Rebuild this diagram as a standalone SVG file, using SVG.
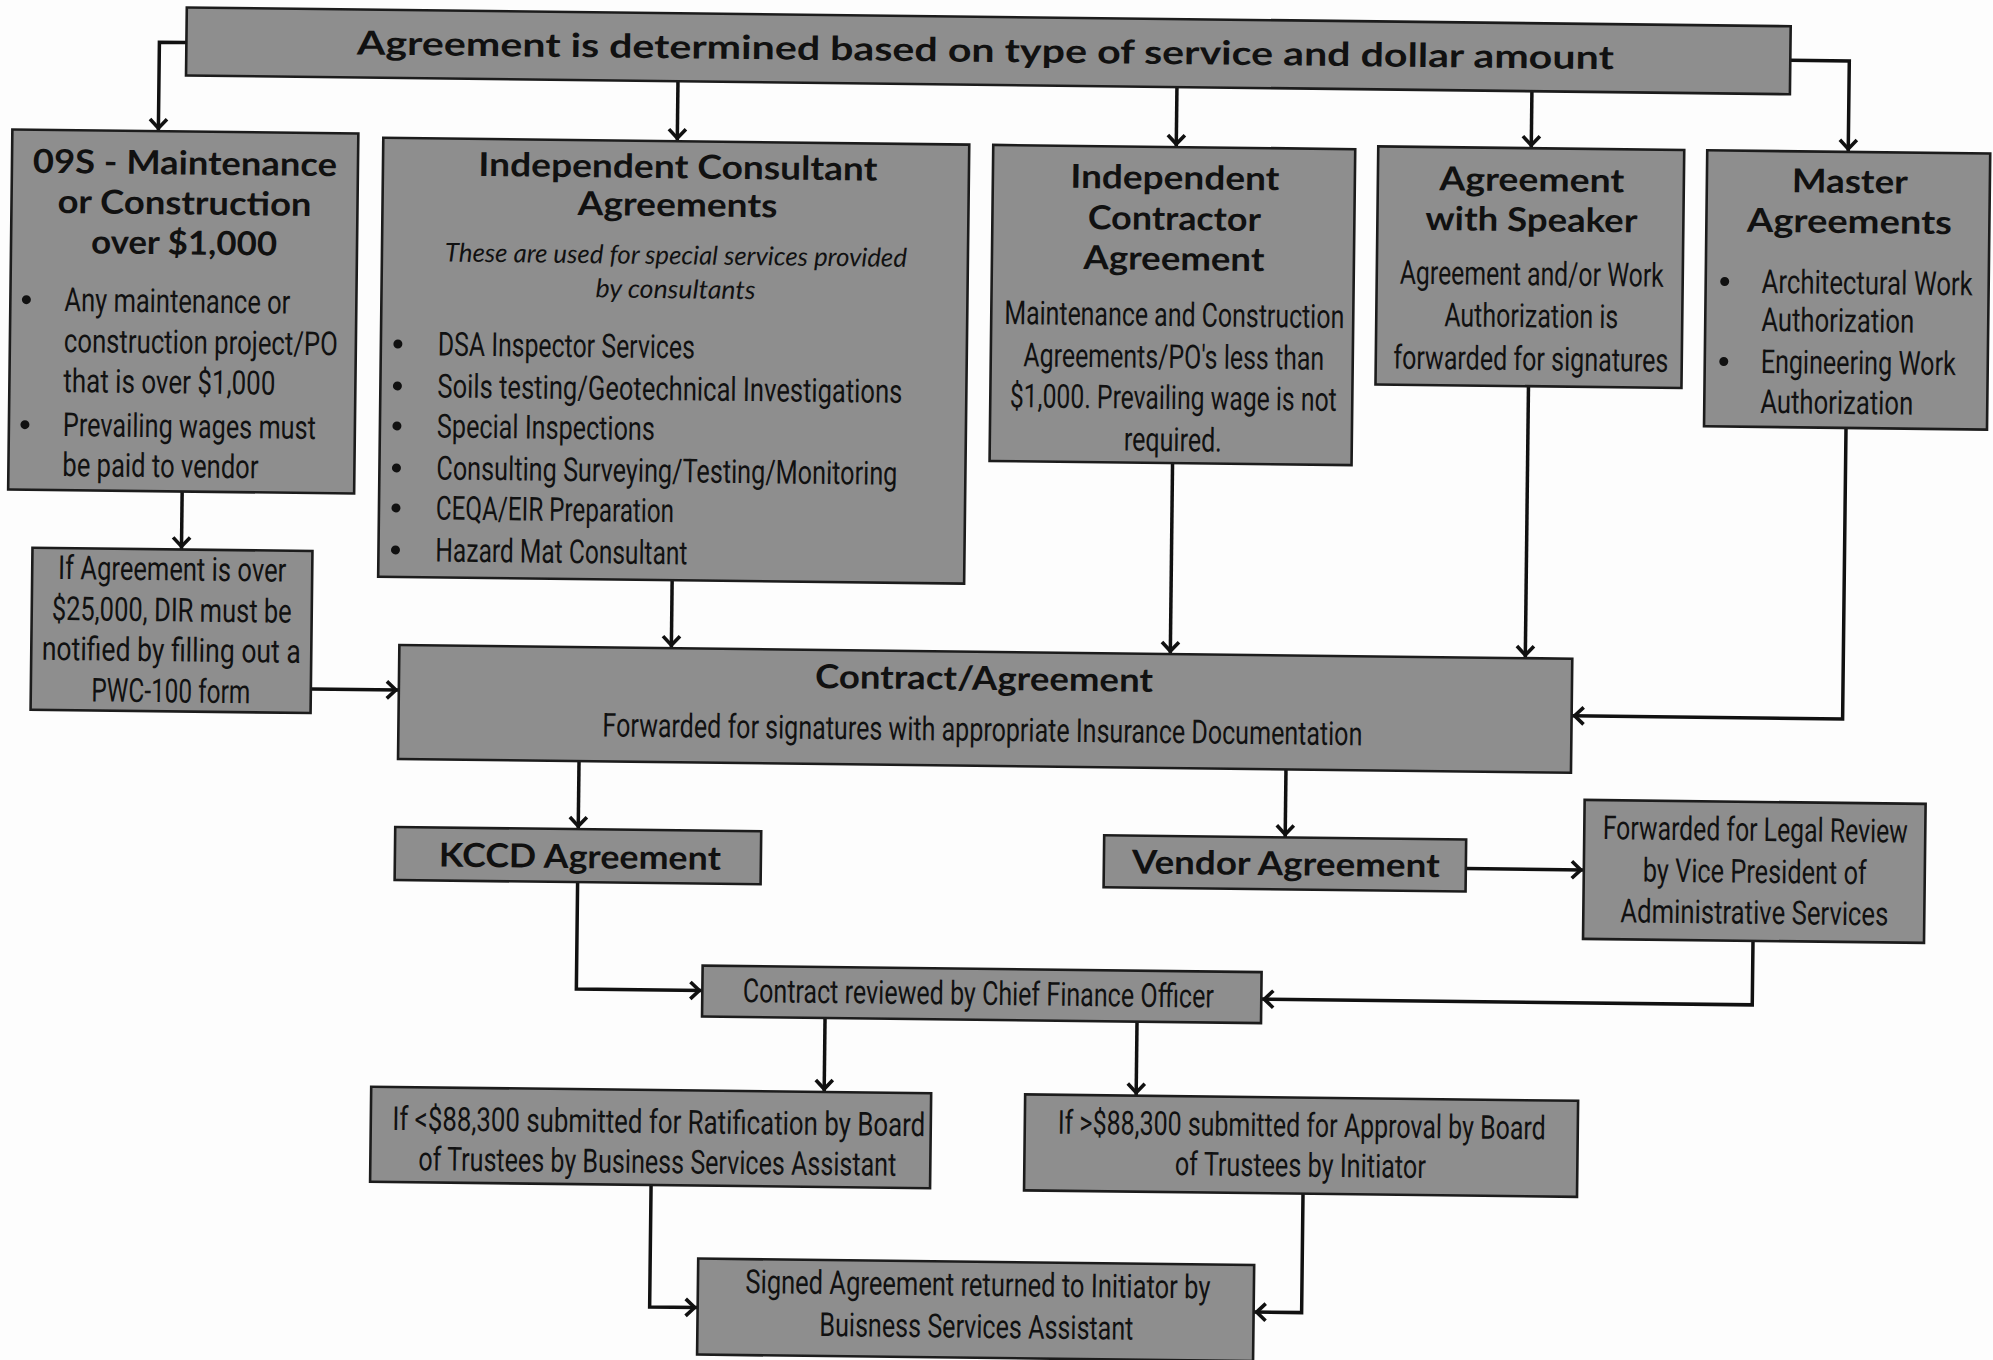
<svg xmlns="http://www.w3.org/2000/svg" width="1993" height="1360" viewBox="0 0 1993 1360">
<defs>
<marker id="ah" markerUnits="userSpaceOnUse" viewBox="-16 -12 18 24" refX="0" refY="0" markerWidth="18" markerHeight="24" orient="auto">
<path d="M-12,-8.5 L-3,0 L-12,8.5" fill="none" stroke="#111" stroke-width="3.6" stroke-linejoin="miter"/>
</marker>
<style>
.box{fill:#8e8e8e;stroke:#1c1c1c;stroke-width:2.6}
.t{font-family:Lato,"Open Sans","Liberation Sans",sans-serif;font-weight:700;font-size:33px;fill:#111;text-anchor:middle}
.b{font-family:Roboto,"Liberation Sans",sans-serif;font-size:33px;fill:#111}
.c{text-anchor:middle}
.i{font-family:Lato,"Open Sans","Liberation Sans",sans-serif;font-style:italic;font-size:26px;fill:#111;text-anchor:middle}
.dot{fill:#111}
.conn{stroke:#111;stroke-width:3.5;fill:none;marker-end:url(#ah)}
</style>
</defs>
<rect width="1993" height="1360" fill="#fdfdfd"/>
<g transform="rotate(0.67 996 680)">
<g id="connectors">
<path class="conn" d="M179,52 H152 V141"/>
<path class="conn" d="M671,85 V145"/>
<path class="conn" d="M1170,85 V145"/>
<path class="conn" d="M1525,85 V142"/>
<path class="conn" d="M1783,51 H1842 V142"/>
<path class="conn" d="M180,501 V559"/>
<path class="conn" d="M311,697 H399"/>
<path class="conn" d="M671,584 V652"/>
<path class="conn" d="M1170,461 V652"/>
<path class="conn" d="M1525,380 V652"/>
<path class="conn" d="M1843,417 V709 H1572"/>
<path class="conn" d="M580,766 V834"/>
<path class="conn" d="M1287,766 V834"/>
<path class="conn" d="M1468,863 H1586"/>
<path class="conn" d="M580,887 V994 H706"/>
<path class="conn" d="M1756,932 V996 H1265"/>
<path class="conn" d="M829,1020 V1094"/>
<path class="conn" d="M1141,1020 V1094"/>
<path class="conn" d="M657,1189 V1311 H705"/>
<path class="conn" d="M1309,1190 V1309 H1261"/>
</g>

<g id="top">
<rect class="box" x="179" y="17" width="1604" height="68"/>
<text class="t" x="978" y="62" font-size="35" textLength="1257" lengthAdjust="spacingAndGlyphs">Agreement is determined based on type of service and dollar amount</text>
</g>

<g id="n09s">
<rect class="box" x="6" y="141" width="346" height="360"/>
<text class="t" x="179" y="184" textLength="304" lengthAdjust="spacingAndGlyphs">09S - Maintenance</text>
<text class="t" x="179" y="224" textLength="254" lengthAdjust="spacingAndGlyphs">or Construction</text>
<text class="t" x="179" y="264" textLength="186" lengthAdjust="spacingAndGlyphs">over $1,000</text>
<circle class="dot" cx="22" cy="311" r="4.5"/>
<text class="b" x="60" y="322" textLength="226" lengthAdjust="spacingAndGlyphs">Any maintenance or</text>
<text class="b" x="60" y="363" textLength="274" lengthAdjust="spacingAndGlyphs">construction project/PO</text>
<text class="b" x="60" y="403" textLength="212" lengthAdjust="spacingAndGlyphs">that is over $1,000</text>
<circle class="dot" cx="22" cy="436" r="4.5"/>
<text class="b" x="60" y="447" textLength="253" lengthAdjust="spacingAndGlyphs">Prevailing wages must</text>
<text class="b" x="60" y="487" textLength="196" lengthAdjust="spacingAndGlyphs">be paid to vendor</text>
</g>

<g id="consultant">
<rect class="box" x="377" y="145" width="586" height="439"/>
<text class="t" x="672" y="182" textLength="399" lengthAdjust="spacingAndGlyphs">Independent Consultant</text>
<text class="t" x="672" y="220" textLength="200" lengthAdjust="spacingAndGlyphs">Agreements</text>
<text class="i" x="671" y="268" textLength="462" lengthAdjust="spacingAndGlyphs">These are used for special services provided</text>
<text class="i" x="671" y="302" textLength="160" lengthAdjust="spacingAndGlyphs">by consultants</text>
<circle class="dot" cx="394" cy="351" r="4.5"/>
<text class="b" x="434" y="362" textLength="257" lengthAdjust="spacingAndGlyphs">DSA Inspector Services</text>
<circle class="dot" cx="394" cy="393" r="4.5"/>
<text class="b" x="434" y="404" textLength="465" lengthAdjust="spacingAndGlyphs">Soils testing/Geotechnical Investigations</text>
<circle class="dot" cx="394" cy="433" r="4.5"/>
<text class="b" x="434" y="444" textLength="218" lengthAdjust="spacingAndGlyphs">Special Inspections</text>
<circle class="dot" cx="394" cy="475" r="4.5"/>
<text class="b" x="434" y="486" textLength="461" lengthAdjust="spacingAndGlyphs">Consulting Surveying/Testing/Monitoring</text>
<circle class="dot" cx="394" cy="515" r="4.5"/>
<text class="b" x="434" y="526" textLength="238" lengthAdjust="spacingAndGlyphs">CEQA/EIR Preparation</text>
<circle class="dot" cx="394" cy="557" r="4.5"/>
<text class="b" x="434" y="568" textLength="252" lengthAdjust="spacingAndGlyphs">Hazard Mat Consultant</text>
</g>

<g id="contractor">
<rect class="box" x="987" y="145" width="362" height="316"/>
<text class="t" x="1169" y="187" textLength="209" lengthAdjust="spacingAndGlyphs">Independent</text>
<text class="t" x="1169" y="228" textLength="173" lengthAdjust="spacingAndGlyphs">Contractor</text>
<text class="t" x="1169" y="268" textLength="181" lengthAdjust="spacingAndGlyphs">Agreement</text>
<text class="b c" x="1170" y="324" textLength="340" lengthAdjust="spacingAndGlyphs">Maintenance and Construction</text>
<text class="b c" x="1170" y="366" textLength="301" lengthAdjust="spacingAndGlyphs">Agreements/PO's less than</text>
<text class="b c" x="1170" y="407" textLength="327" lengthAdjust="spacingAndGlyphs">$1,000. Prevailing wage is not</text>
<text class="b c" x="1170" y="449" textLength="98" lengthAdjust="spacingAndGlyphs">required.</text>
</g>

<g id="speaker">
<rect class="box" x="1372" y="142" width="306" height="238"/>
<text class="t" x="1526" y="185" textLength="185" lengthAdjust="spacingAndGlyphs">Agreement</text>
<text class="t" x="1526" y="225" textLength="212" lengthAdjust="spacingAndGlyphs">with Speaker</text>
<text class="b c" x="1527" y="279" textLength="264" lengthAdjust="spacingAndGlyphs">Agreement and/or Work</text>
<text class="b c" x="1527" y="321" textLength="174" lengthAdjust="spacingAndGlyphs">Authorization is</text>
<text class="b c" x="1527" y="364" textLength="275" lengthAdjust="spacingAndGlyphs">forwarded for signatures</text>
</g>

<g id="master">
<rect class="box" x="1701" y="142" width="283" height="276"/>
<text class="t" x="1844" y="183" textLength="116" lengthAdjust="spacingAndGlyphs">Master</text>
<text class="t" x="1844" y="223" textLength="205" lengthAdjust="spacingAndGlyphs">Agreements</text>
<circle class="dot" cx="1720" cy="273" r="4.5"/>
<text class="b" x="1757" y="284" textLength="211" lengthAdjust="spacingAndGlyphs">Architectural Work</text>
<text class="b" x="1757" y="322" textLength="153" lengthAdjust="spacingAndGlyphs">Authorization</text>
<circle class="dot" cx="1720" cy="353" r="4.5"/>
<text class="b" x="1757" y="364" textLength="195" lengthAdjust="spacingAndGlyphs">Engineering Work</text>
<text class="b" x="1757" y="404" textLength="153" lengthAdjust="spacingAndGlyphs">Authorization</text>
</g>

<g id="dir">
<rect class="box" x="31" y="559" width="280" height="162"/>
<text class="b c" x="171" y="590" textLength="228" lengthAdjust="spacingAndGlyphs">If Agreement is over</text>
<text class="b c" x="171" y="631" textLength="240" lengthAdjust="spacingAndGlyphs">$25,000, DIR must be</text>
<text class="b c" x="171" y="671" textLength="259" lengthAdjust="spacingAndGlyphs">notified by filling out a</text>
<text class="b c" x="171" y="712" textLength="159" lengthAdjust="spacingAndGlyphs">PWC-100 form</text>
</g>

<g id="contract">
<rect class="box" x="399" y="652" width="1173" height="114"/>
<text class="t" x="984" y="690" font-size="34" textLength="338" lengthAdjust="spacingAndGlyphs">Contract/Agreement</text>
<text class="b c" x="983" y="741" font-size="32" textLength="760" lengthAdjust="spacingAndGlyphs">Forwarded for signatures with appropriate Insurance Documentation</text>
</g>

<g id="kccd">
<rect class="box" x="397" y="834" width="366" height="53"/>
<text class="t" x="582" y="873" textLength="282" lengthAdjust="spacingAndGlyphs">KCCD Agreement</text>
</g>

<g id="vendor">
<rect class="box" x="1106" y="834" width="362" height="52"/>
<text class="t" x="1288" y="872" textLength="308" lengthAdjust="spacingAndGlyphs">Vendor Agreement</text>
</g>

<g id="legal">
<rect class="box" x="1586" y="793" width="341" height="139"/>
<text class="b c" x="1757" y="832" textLength="305" lengthAdjust="spacingAndGlyphs">Forwarded for Legal Review</text>
<text class="b c" x="1757" y="874" textLength="224" lengthAdjust="spacingAndGlyphs">by Vice President of</text>
<text class="b c" x="1757" y="915" textLength="268" lengthAdjust="spacingAndGlyphs">Administrative Services</text>
</g>

<g id="cfo">
<rect class="box" x="706" y="969" width="559" height="51"/>
<text class="b c" x="982" y="1005" textLength="471" lengthAdjust="spacingAndGlyphs">Contract reviewed by Chief Finance Officer</text>
</g>

<g id="ratification">
<rect class="box" x="376" y="1094" width="560" height="95"/>
<text class="b c" x="664" y="1137" textLength="533" lengthAdjust="spacingAndGlyphs">If &lt;$88,300 submitted for Ratification by Board</text>
<text class="b c" x="663" y="1177" textLength="478" lengthAdjust="spacingAndGlyphs">of Trustees by Business Services Assistant</text>
</g>

<g id="approval">
<rect class="box" x="1030" y="1094" width="553" height="96"/>
<text class="b c" x="1307" y="1133" textLength="488" lengthAdjust="spacingAndGlyphs">If &gt;$88,300 submitted for Approval by Board</text>
<text class="b c" x="1306" y="1173" textLength="251" lengthAdjust="spacingAndGlyphs">of Trustees by Initiator</text>
</g>

<g id="signed">
<rect class="box" x="705" y="1262" width="556" height="96"/>
<text class="b c" x="985" y="1296" textLength="465" lengthAdjust="spacingAndGlyphs">Signed Agreement returned to Initiator by</text>
<text class="b c" x="984" y="1338" textLength="314" lengthAdjust="spacingAndGlyphs">Buisness Services Assistant</text>
</g>
</g>
</svg>
